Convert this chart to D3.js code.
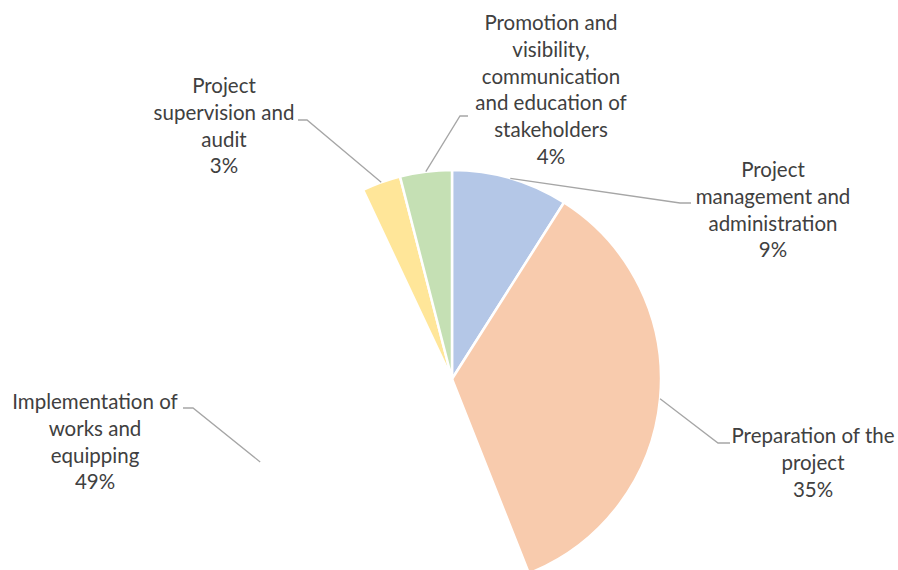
<!DOCTYPE html>
<html>
<head>
<meta charset="utf-8">
<script src="https://cdn.jsdelivr.net/npm/d3@7/dist/d3.min.js"></script>
<style>
  html, body { margin: 0; padding: 0; background: #fff; }
  svg { display: block; }
  text { font-family: Lato, "Open Sans", sans-serif; }
</style>
</head>
<body>
<svg id="chart" width="898" height="570"></svg>
<script>
// Budget shares by activity, clockwise from 12 o'clock
const categories = [
  "Project management and administration",
  "Preparation of the project",
  "Implementation of works and equipping",
  "Project supervision and audit",
  "Promotion and visibility, communication and education of stakeholders"
];
const values = [9, 35, 49, 3, 4];

// Wrapped label lines for each category
const labelLines = [
  ["Project", "management and", "administration"],
  ["Preparation of the", "project"],
  ["Implementation of", "works and", "equipping"],
  ["Project", "supervision and", "audit"],
  ["Promotion and", "visibility,", "communication", "and education of", "stakeholders"]
];

// Slice fills; the works slice is left unfilled
const palette = ["#b4c7e7", "#f8cbad", "none", "#ffe699", "#c5e0b4"];

// Label block placement: text centre x, first baseline, leader elbow and end
const labelLayout = [
  { x: 773, y: 177, elbow: [680, 203], end: [691, 203] },
  { x: 813, y: 443, elbow: [718, 443], end: [730, 443] },
  { x: 95,  y: 409, elbow: [193, 408], end: [183, 408] },
  { x: 224, y: 93,  elbow: [307, 120], end: [298, 120] },
  { x: 551, y: 30,  elbow: [460, 116], end: [468, 116] }
];

const cx = 452, cy = 379, radius = 209, lineHeight = 26.8;

const svg = d3.select("#chart");
const g = svg.append("g").attr("transform", `translate(${cx},${cy})`);

const data = categories.map((c, i) => ({ category: c, value: values[i], index: i }));

const pie = d3.pie().value(d => d.value).sort(null);
const arcs = pie(data);

const color = d3.scaleOrdinal().domain(categories).range(palette);
const arc = d3.arc().innerRadius(0).outerRadius(radius);

g.selectAll("path.slice")
  .data(arcs)
  .join("path")
  .attr("class", "slice")
  .attr("d", arc)
  .attr("fill", d => color(d.data.category))
  .attr("stroke", d => color(d.data.category) === "none" ? "none" : "#fff")
  .attr("stroke-width", 2.5)
  .attr("stroke-linejoin", "round");

// Leader lines from the slice rim to each label
const line = d3.line();
svg.selectAll("path.leader")
  .data(arcs)
  .join("path")
  .attr("class", "leader")
  .attr("fill", "none")
  .attr("stroke", "#a6a6a6")
  .attr("stroke-width", 1.3)
  .attr("d", d => {
    const L = labelLayout[d.index];
    const a = (d.startAngle + d.endAngle) / 2;
    const r = radius;
    const start = [cx + r * Math.sin(a), cy - r * Math.cos(a)];
    return line([start, L.elbow, L.end]);
  });

// Category names with rounded percentage on the last line
const fmt = d3.format(".0%");
const total = d3.sum(values);
const labels = svg.selectAll("text.label")
  .data(arcs)
  .join("text")
  .attr("class", "label")
  .attr("text-anchor", "middle")
  .attr("fill", "#404040")
  .attr("font-size", 20.5);

labels.each(function(d) {
  const L = labelLayout[d.index];
  const lines = labelLines[d.index].concat([fmt(d.value / total)]);
  d3.select(this).selectAll("tspan")
    .data(lines)
    .join("tspan")
    .attr("x", L.x)
    .attr("y", (t, j) => L.y + j * lineHeight)
    .text(t => t);
});
</script>
</body>
</html>
